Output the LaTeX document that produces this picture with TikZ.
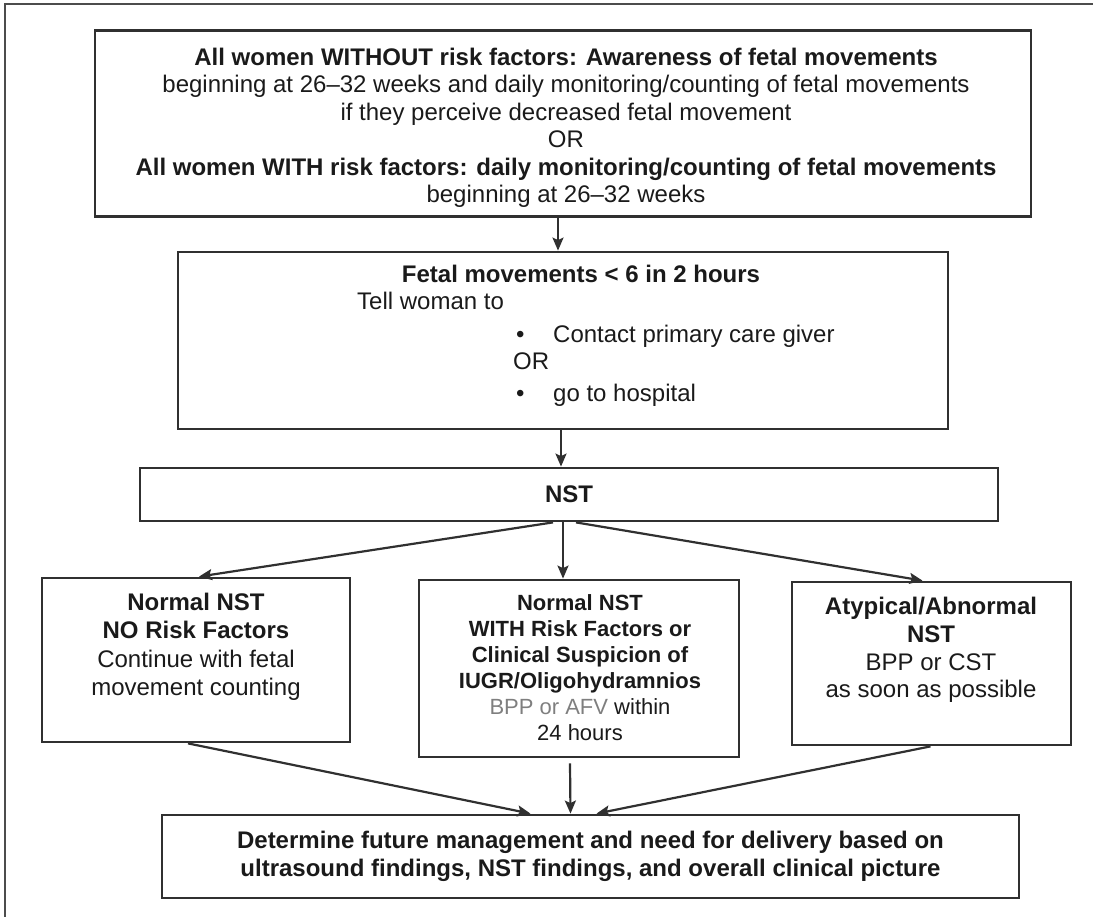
\documentclass[tikz,border=0pt]{standalone}
\usepackage{fontspec}
\setmainfont{Liberation Sans}
\usetikzlibrary{arrows.meta}
\definecolor{boxline}{HTML}{303030}
\definecolor{inktext}{HTML}{1A1A1A}
\definecolor{softtext}{HTML}{7F7F7F}
\tikzset{
	flowbox/.style={
		rectangle, draw=boxline, line width=2.8pt, inner sep=0pt,
		align=center, text=inktext, font=\fontsize{24}{28}\selectfont
	},
	%
	boxtext/.style={
		align=center, inner sep=0pt, text=inktext, anchor=north,
		font=\fontsize{24}{27.5}\selectfont
	},
	%
	linetext/.style={
		inner sep=0pt, text=inktext, anchor=base west,
		font=\fontsize{24}{27.5}\selectfont
	},
	%
	flowarrow/.style={
		line width=2.2pt, draw=boxline, -{Stealth[length=13pt,width=11pt,inset=2.5pt]}
	}
}

\begin{document}
\begin{tikzpicture}[x=1pt,y=-1pt]
\useasboundingbox (0,0) rectangle (1093,917);
%frame
\coordinate (frametop) at (1093,4);
\coordinate (framecorner) at (5,4);
\coordinate (framefoot) at (5,917);
\draw[black!70, line width=1.6pt] (frametop) -- (framecorner) -- (framefoot);

%boxes
\node (allwomen) [flowbox, minimum width=936, minimum height=186] at (563,123.5) {};
\node (reduced) [flowbox, minimum width=770, minimum height=177] at (563,340.5) {};
\node (nst) [flowbox, minimum width=858, minimum height=53] at (569,494.5) {\textbf{NST}};
\node (normal) [flowbox, minimum width=308, minimum height=164] at (196,660) {};
\node (riskfac) [flowbox, minimum width=320, minimum height=177] at (579,668.5) {};
\node (abnormal) [flowbox, minimum width=279, minimum height=163] at (931.5,663.5) {};
\node (decide) [flowbox, minimum width=857, minimum height=83] at (590.5,856.5)
	{\textbf{Determine future management and need for delivery based on}\\
	 \textbf{ultrasound findings, NST findings, and overall clinical picture}};

%texts
\node (allwomentext) [boxtext] at (566,47.5)
	{\textbf{All women WITHOUT risk factors: Awareness of fetal movements}\\
	 beginning at 26--32 weeks and daily monitoring/counting of fetal movements\\
	 if they perceive decreased fetal movement\\
	 OR\\
	 \textbf{All women WITH risk factors: daily monitoring/counting of fetal movements}\\
	 beginning at 26--32 weeks};
\node (reducedtitle) [linetext, anchor=base] at (581,283) {\textbf{Fetal movements < 6 in 2 hours}};
\node (tellwoman) [linetext] at (357,310) {Tell woman to};
\node (bulletone) [linetext] at (516,343) {\textbullet};
\node (contact) [linetext] at (553,343) {Contact primary care giver};
\node (orline) [linetext] at (513,370) {OR};
\node (bullettwo) [linetext] at (516,402) {\textbullet};
\node (hospital) [linetext] at (553,402) {go to hospital};
\node (normaltext) [boxtext, font=\fontsize{24}{28.3}\selectfont] at (196,593)
	{\textbf{Normal NST}\\ \textbf{NO Risk Factors}\\ Continue with fetal\\ movement counting};
\node (riskfactext) [boxtext, font=\fontsize{22}{26}\selectfont] at (580,594)
	{\textbf{Normal NST}\\ \textbf{WITH Risk Factors or}\\ \textbf{Clinical Suspicion of}\\
	 \textbf{IUGR/Oligohydramnios}\\ \textcolor{softtext}{BPP or AFV} within\\ 24 hours};
\node (abnormaltext) [boxtext, font=\fontsize{24}{27.8}\selectfont] at (931,597)
	{\textbf{Atypical/Abnormal}\\ \textbf{NST}\\ BPP or CST\\ as soon as possible};

%arrows
\draw[flowarrow] ([xshift=-5]allwomen.south) -- ([xshift=-5]reduced.north);
\draw[flowarrow] ([xshift=-2]reduced.south) -- ([xshift=-8]nst.north);
\draw[flowarrow] ([xshift=-16]nst.south) -- ([xshift=3]normal.north);
\draw[flowarrow] ([xshift=-6]nst.south) -- ([xshift=-16]riskfac.north);
\draw[flowarrow] ([xshift=7]nst.south) -- ([xshift=-9]abnormal.north);
\draw[flowarrow] ([xshift=-8]normal.south) -- ([xshift=-60]decide.north);
\draw[flowarrow] ([xshift=-9,yshift=-5]riskfac.south) -- ([xshift=-20]decide.north);
\draw[flowarrow] ([xshift=-1]abnormal.south) -- ([xshift=6]decide.north);
\end{tikzpicture}
\end{document}
